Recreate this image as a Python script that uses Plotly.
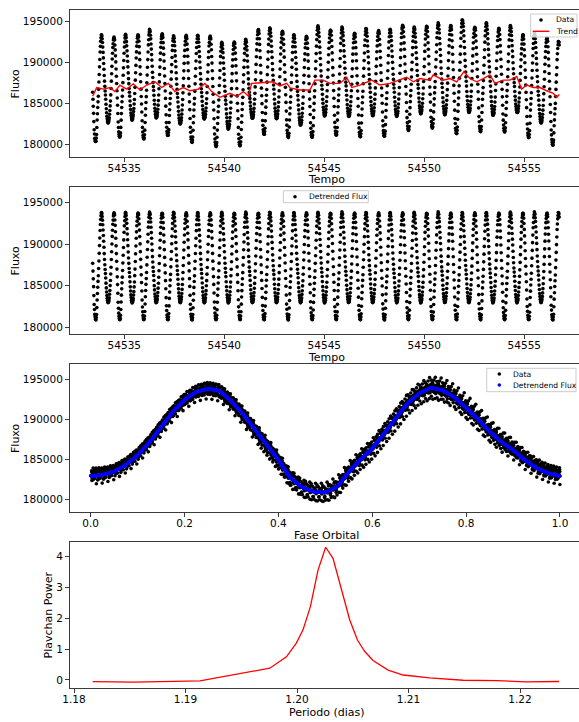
import numpy as np
import plotly.graph_objects as go

# ---- detrended phase profile (flux vs orbital phase, step 0.025) ----
phase_nodes = [0.000, 0.025, 0.050, 0.075, 0.100, 0.125, 0.150, 0.175, 0.200, 0.225,
               0.250, 0.275, 0.300, 0.325, 0.350, 0.375, 0.400, 0.425, 0.450, 0.475,
               0.500, 0.525, 0.550, 0.575, 0.600, 0.625, 0.650, 0.675, 0.700, 0.725,
               0.750, 0.775, 0.800, 0.825, 0.850, 0.875, 0.900, 0.925, 0.950, 0.975,
               1.000]
flux_profile = [182900, 183050, 183450, 184300, 185500, 187100, 189000, 190900, 192400, 193400,
                193800, 193500, 192200, 190600, 188700, 186800, 184900, 182700, 181500, 180950,
                180850, 181550, 183400, 184950, 186350, 188200, 190100, 191950, 193200, 193900,
                193600, 192700, 191400, 190000, 188450, 187150, 186150, 184900, 183900, 183250,
                182900]

# ---- ephemeris and sampling ----
period_days = 1.2026
epoch = 54532.983
t_start, t_end = 54533.42, 54556.75
cadence_days = 0.0148

# ---- smoothed trend of the raw light curve ----
trend_time = [54533.42, 54533.62, 54533.95, 54534.28, 54534.53, 54534.78, 54535.12,
              54535.45, 54535.78, 54536.12, 54536.53, 54536.87, 54537.20, 54537.53,
              54537.95, 54538.28, 54538.70, 54539.03, 54539.37, 54539.78, 54540.28,
              54540.62, 54540.95, 54541.20, 54541.37, 54541.95, 54542.45, 54542.78,
              54543.12, 54543.29, 54543.78, 54544.28, 54544.53, 54544.95, 54545.28,
              54545.78, 54546.12, 54546.37, 54546.78, 54547.37, 54547.78, 54548.28,
              54548.78, 54549.12, 54549.45, 54549.78, 54550.28, 54550.45, 54550.95,
              54551.28, 54551.62, 54551.98, 54552.28, 54552.62, 54552.95, 54553.28,
              54553.53, 54553.95, 54554.28, 54554.62, 54554.87, 54555.12, 54555.45,
              54555.78, 54556.12, 54556.45, 54556.62, 54556.75]
trend_flux = [185900, 186950, 186750, 186950, 186450, 187250, 186750,
              187400, 186650, 187250, 187650, 186950, 187450, 186450,
              186950, 186550, 186750, 187450, 186450, 185750, 186250,
              185850, 186450, 185900, 187450, 187550, 187650, 187150,
              187450, 186900, 186650, 186650, 187850, 187850, 187450,
              187450, 188200, 186950, 187250, 187850, 187250, 187450,
              187850, 188200, 187650, 188050, 187850, 188500, 187850,
              188050, 187650, 188900, 188050, 187650, 188050, 188500,
              187450, 187850, 187850, 188300, 186750, 187250, 186950,
              186950, 186550, 186250, 185750, 186100]

# ---- Plavchan periodogram ----
periods = [1.18168, 1.18535, 1.19130, 1.19427, 1.19606, 1.19756, 1.19905, 1.19994,
           1.20054, 1.20120, 1.20189, 1.20257, 1.20323, 1.20398, 1.20473, 1.20542,
           1.20608, 1.20682, 1.20817, 1.20952, 1.21191, 1.21490, 1.21789, 1.22058,
           1.22351]
plavchan_power = [-0.055, -0.07, -0.03, 0.16, 0.27, 0.38, 0.75, 1.19,
                  1.62, 2.37, 3.56, 4.29, 3.93, 2.91, 1.94, 1.29,
                  0.92, 0.63, 0.32, 0.16, 0.07, -0.01, -0.02, -0.06,
                  -0.05]

# ---- build the light curves ----
time = np.arange(t_start, t_end, cadence_days)
phase = np.mod((time - epoch) / period_days, 1.0)
detrended = np.interp(phase, phase_nodes, flux_profile, period=1.0)
trend_at_t = np.interp(time, trend_time, trend_flux)
raw = detrended + trend_at_t - np.mean(trend_flux)

W, H = 579, 722
L = 70
FONT = "DejaVu Sans"
AX = "#3a3a3a"


def px(x):
    return x / W


def py(y):
    return 1 - y / H


def ydom(top_px, bot_px):
    return [py(bot_px), py(top_px)]


fig = go.Figure()
dot = dict(color="black", size=3.6)

# panel 1: raw data + trend
fig.add_trace(go.Scatter(x=time, y=raw, mode="markers", marker=dot, name="Data",
                         xaxis="x", yaxis="y"))
fig.add_trace(go.Scatter(x=trend_time, y=trend_flux, mode="lines",
                         line=dict(color="red", width=1.4), name="Trend",
                         xaxis="x", yaxis="y"))
# panel 2: detrended flux
fig.add_trace(go.Scatter(x=time, y=detrended, mode="markers", marker=dot,
                         name="Detrended Flux", xaxis="x2", yaxis="y2"))
# panel 3: phase folded
fig.add_trace(go.Scatter(x=phase, y=raw, mode="markers", marker=dot, name="Data",
                         xaxis="x3", yaxis="y3"))
fig.add_trace(go.Scatter(x=phase, y=detrended, mode="markers",
                         marker=dict(color="blue", size=3.6), name="Detrendend Flux",
                         xaxis="x3", yaxis="y3"))
# panel 4: periodogram
fig.add_trace(go.Scatter(x=periods, y=plavchan_power, mode="lines",
                         line=dict(color="red", width=1.3), name="Plavchan",
                         xaxis="x4", yaxis="y4"))

tickfont = dict(family=FONT, size=10.5, color="black")
xcommon = dict(domain=[px(L), 1], showline=True, mirror=True, linecolor=AX, linewidth=1,
               ticks="outside", ticklen=4, tickcolor=AX, showgrid=False, zeroline=False,
               automargin=False, tickfont=tickfont, ticklabelstandoff=-3)
ycommon = dict(showline=True, mirror=False, linecolor=AX, linewidth=1,
               ticks="outside", ticklen=4, tickcolor=AX, showgrid=False, zeroline=False,
               automargin=False, tickfont=tickfont)
flux_ticks = [180000, 185000, 190000, 195000]

fig.update_layout(
    width=W, height=H, margin=dict(l=0, r=0, t=0, b=0),
    paper_bgcolor="white", plot_bgcolor="white", showlegend=False,
    font=dict(family=FONT, color="black"),
    xaxis=dict(range=[54532.285, 54557.735], dtick=5, tickformat="d", anchor="y", **xcommon),
    yaxis=dict(domain=ydom(9.5, 157), range=[178450, 196490], tickvals=flux_ticks,
               tickformat="d", anchor="x", **ycommon),
    xaxis2=dict(range=[54532.285, 54557.735], dtick=5, tickformat="d", anchor="y2", **xcommon),
    yaxis2=dict(domain=ydom(187, 334), range=[179155, 196900], tickvals=flux_ticks,
                tickformat="d", anchor="x2", **ycommon),
    xaxis3=dict(range=[-0.0441, 1.0405], tickvals=[0, 0.2, 0.4, 0.6, 0.8, 1.0],
                tickformat=".1f", anchor="y3", **xcommon),
    yaxis3=dict(domain=ydom(364, 512), range=[178420, 196870], tickvals=flux_ticks,
                tickformat="d", anchor="x3", **ycommon),
    xaxis4=dict(range=[1.179641, 1.225291], tickvals=[1.18, 1.19, 1.20, 1.21, 1.22],
                tickformat=".2f", anchor="y4", **xcommon),
    yaxis4=dict(domain=ydom(542, 688), range=[-0.26, 4.46], tickvals=[0, 1, 2, 3, 4],
                anchor="x4", **ycommon),
)

# ---- axis titles ----
title_font = dict(family=FONT, size=11, color="black")
axis_titles = [
    ("Tempo", 326.5, 179.5, 0), ("Tempo", 326.5, 357, 0),
    ("Fase Orbital", 326.5, 535.5, 0), ("Periodo (dias)", 326.5, 712, 0),
    ("Fluxo", 15, 83.5, -90), ("Fluxo", 15, 260.5, -90), ("Fluxo", 15, 438, -90),
    ("Plavchan Power", 47.5, 615, -90),
]
for text, x, y, ang in axis_titles:
    fig.add_annotation(text=text, x=px(x), y=py(y), xref="paper", yref="paper",
                       showarrow=False, textangle=ang, font=title_font,
                       xanchor="center", yanchor="middle")

# ---- legends ----
leg_font = dict(family=FONT, size=7.6, color="black")


def legend_box(x0, y0, x1, y1):
    fig.add_shape(type="rect", xref="paper", yref="paper",
                  x0=px(x0), x1=px(x1), y0=py(y1), y1=py(y0),
                  line=dict(color="#cccccc", width=1), fillcolor="rgba(255,255,255,0.8)",
                  layer="above")


def legend_dot(cx, cy, color):
    r = 1.8
    fig.add_shape(type="circle", xref="paper", yref="paper",
                  x0=px(cx - r), x1=px(cx + r), y0=py(cy + r), y1=py(cy - r),
                  line=dict(width=0), fillcolor=color, layer="above")


def legend_line(x0, x1, y, color):
    fig.add_shape(type="line", xref="paper", yref="paper",
                  x0=px(x0), x1=px(x1), y0=py(y), y1=py(y),
                  line=dict(color=color, width=1.4), layer="above")


def legend_text(x, y, text):
    fig.add_annotation(text=text, x=px(x), y=py(y), xref="paper", yref="paper",
                       showarrow=False, font=leg_font, xanchor="left", yanchor="middle")


legend_box(530.7, 14, 577, 37)
legend_dot(541, 20, "black")
legend_text(554, 20, "Data")
legend_line(532.7, 549.3, 31.3, "red")
legend_text(554, 31.3, "Trend")

legend_box(283.3, 190.7, 368.3, 202.7)
legend_dot(295, 196.7, "black")
legend_text(306.5, 196.7, "Detrended Flux")

legend_box(486.7, 368.3, 576, 391.7)
legend_dot(499.3, 374, "black")
legend_text(511, 374, "Data")
legend_dot(499.3, 385, "blue")
legend_text(511, 385, "Detrendend Flux")

fig.write_html("out.html")
